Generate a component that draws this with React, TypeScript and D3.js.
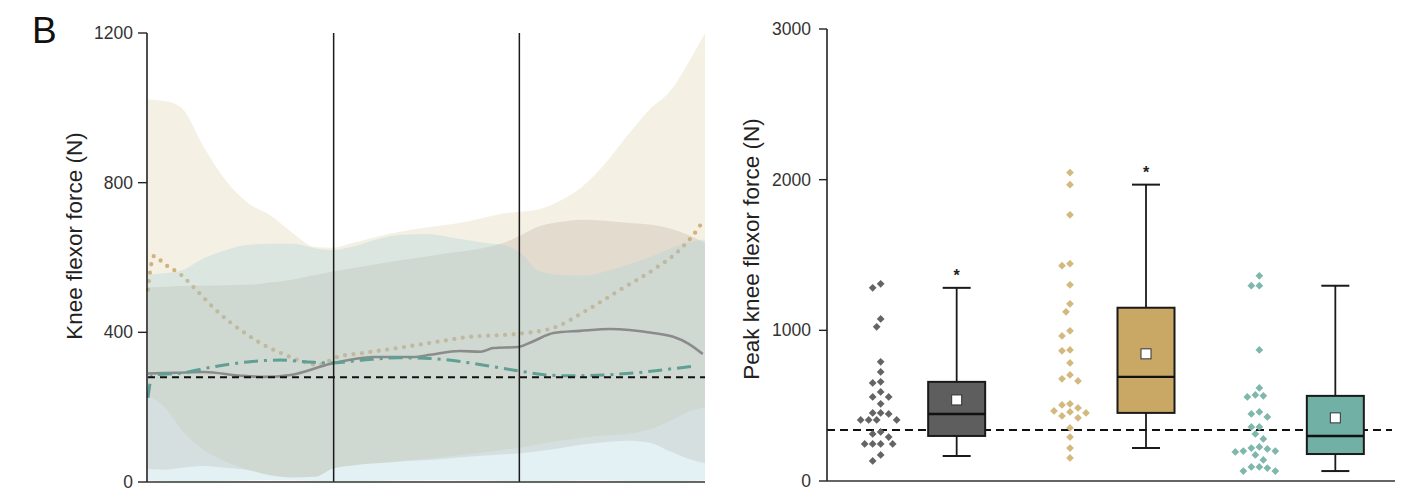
import React from "react";
import * as d3 from "d3";

// ---- left panel: knee flexor force over the cycle (% of cycle) ----
const cyclePct = [0, 3, 6, 10, 14, 18, 22, 26, 30, 33, 37, 41, 45, 50, 55, 60, 64, 67, 70, 74, 78, 82, 86, 90, 94, 97, 100];

const goldUpper = [1022, 1018, 1000, 895, 805, 745, 712, 665, 628, 626, 640, 655, 668, 680, 690, 705, 718, 722, 728, 752, 790, 850, 925, 995, 1050, 1120, 1200];
const goldLower = [230, 200, 140, 85, 55, 32, 18, 12, 14, 35, 45, 50, 55, 62, 70, 78, 86, 92, 100, 110, 118, 124, 128, 140, 165, 188, 200];
const grayUpper = [520, 522, 524, 525, 526, 527, 533, 541, 553, 562, 572, 582, 592, 603, 614, 625, 640, 660, 682, 695, 701, 698, 693, 688, 676, 660, 639];
const grayLower = [35, 33, 38, 43, 38, 32, 18, 12, 14, 35, 45, 50, 55, 58, 64, 70, 74, 77, 82, 90, 100, 106, 110, 105, 80, 62, 50];
const tealUpper = [555, 558, 565, 598, 620, 634, 637, 637, 625, 620, 630, 648, 660, 663, 652, 640, 632, 610, 565, 553, 551, 562, 580, 600, 625, 640, 648];
const tealLower = [4, 3, 2, 2, 3, 4, 5, 4, 3, 2, 2, 3, 4, 5, 5, 4, 3, 2, 2, 3, 4, 4, 3, 2, 2, 3, 4];

// mean curves: [% of cycle, force N]
const grayMean: [number, number][] = [
  [0, 290], [5, 292], [10, 294], [16.7, 284], [20.8, 281], [25.6, 286], [32.8, 316], [36, 326], [40.5, 334],
  [47.7, 334], [50.7, 340], [56, 350], [59.7, 348], [62, 358], [66.5, 361], [69, 375], [72.8, 398], [77.6, 404],
  [83, 409], [90.7, 398], [94.3, 388], [97, 370], [99.6, 342],
];
const tealMean: [number, number][] = [
  [0, 225], [0.8, 286], [5.9, 291], [11.8, 308], [17.9, 321], [23.8, 326], [28.7, 321], [32.8, 318], [38.7, 326],
  [44.8, 332], [50.7, 330], [57.9, 318], [62, 308], [66.5, 297], [71.7, 286], [75.8, 284], [81.7, 286], [87.8, 292],
  [93.7, 302], [98.2, 310],
];
const goldMean: [number, number][] = [
  [0, 514], [0.5, 575], [1.1, 604], [2.9, 583], [5.9, 554], [9, 508], [11.8, 465], [14.9, 425], [17.9, 393],
  [20.8, 366], [23.8, 345], [26.9, 326], [30.5, 313], [34, 334], [38.7, 345], [44.8, 358], [49.5, 369], [57.9, 388],
  [66.3, 396], [72.8, 412], [78.9, 460], [84.8, 514], [90.7, 567], [95.5, 621], [98.6, 674], [99.6, 696],
];
const leftThreshold = 280;
const phaseBounds = [33.33, 66.67];
const leftTicks = [0, 400, 800, 1200];

// ---- right panel: peak knee flexor force ----
const groupNames = ["Grey", "Gold", "Teal"];
const groupColors = ["#5e5e5e", "#c8a864", "#71b0a5"];
const dotColors = ["#646464", "#d3b97e", "#7fb7ac"];
const greyPoints = [1309, 1282, 1076, 1023, 791, 724, 658, 651, 591, 558, 558, 512, 452, 452, 445, 405, 405, 405, 405, 326, 312, 292, 246, 246, 246, 246, 173, 133];
const goldPoints = [2047, 1967, 1767, 1442, 1429, 1302, 1176, 1123, 997, 963, 870, 864, 784, 704, 678, 664, 512, 505, 485, 465, 458, 452, 432, 419, 352, 292, 219, 153];
const tealPoints = [1362, 1296, 1296, 870, 618, 571, 565, 558, 458, 445, 425, 359, 359, 312, 279, 226, 219, 213, 199, 199, 193, 173, 140, 93, 93, 86, 66, 66];
const boxQ1 = [299, 452, 179];
const boxMedian = [445, 691, 299];
const boxQ3 = [658, 1150, 565];
const boxMean = [538, 844, 419];
const whiskerLow = [166, 219, 66];
const whiskerHigh = [1282, 1967, 1296];
const significant = [true, true, false];
const rightThreshold = 339;
const rightTicks = [0, 1000, 2000, 3000];

const FONT = "'Liberation Sans', Arial, sans-serif";

// simple dodge so overlapping diamonds spread sideways
function swarm(values: number[], y: (v: number) => number, minDist: number) {
  const order = values.map((v, i) => i).sort((a, b) => values[b] - values[a]);
  const placed: { x: number; y: number }[] = [];
  const out: { x: number; y: number }[] = new Array(values.length);
  order.forEach((i) => {
    const yy = y(values[i]);
    for (let k = 0; k < 60; k++) {
      const off = (k % 2 === 0 ? 1 : -1) * Math.ceil(k / 2) * (minDist / 2);
      const ok = placed.every((p) => (p.x - off) ** 2 + (p.y - yy) ** 2 >= minDist * minDist);
      if (ok) {
        placed.push({ x: off, y: yy });
        out[i] = { x: off, y: yy };
        break;
      }
    }
  });
  return out;
}

export default function App() {
  const W = 1408;
  const H = 502;

  // left scales
  const lx = d3.scaleLinear().domain([0, 100]).range([148, 705]);
  const ly = d3.scaleLinear().domain([0, 1200]).range([482, 33]);

  const band = (lo: number[], hi: number[]) =>
    d3
      .area<number>()
      .x((d) => lx(d))
      .y0((_, i) => ly(lo[i]))
      .y1((_, i) => ly(hi[i]))
      .curve(d3.curveMonotoneX)(cyclePct) || "";

  const meanLine = d3
    .line<[number, number]>()
    .x((d) => lx(d[0]))
    .y((d) => ly(d[1]))
    .curve(d3.curveMonotoneX);

  // right scales
  const rx = d3.scaleBand<string>().domain(groupNames).range([827, 1395]);
  const inner = d3.scalePoint<string>().domain(["dots", "box"]).range([-41, 35]);
  const ry = d3.scaleLinear().domain([0, 3000]).range([481, 29]);
  const diamond = d3.symbol(d3.symbolSquare, 30)() || "";
  const allPoints = [greyPoints, goldPoints, tealPoints];
  const boxW = 57;
  const capW = 28;

  const leftAxisX = 147;
  const rightAxisX = 827;

  return (
    <svg width={W} height={H} style={{ position: "absolute", left: 0, top: 0, background: "#fff" }} fontFamily={FONT}>
      {/* panel letter */}
      <text x={32} y={43} fontSize={37} fill="#111">B</text>

      {/* ---------- left panel ---------- */}
      <path d={band(goldLower, goldUpper)} fill="rgb(224,212,175)" fillOpacity={0.35} />
      <path d={meanLine(goldMean) || ""} fill="none" stroke="#c9a462" strokeOpacity={0.8} strokeWidth={4.3} strokeDasharray="0 8.5" strokeLinecap="round" />
      <path d={band(grayLower, grayUpper)} fill="rgb(185,172,160)" fillOpacity={0.3} />
      <path d={band(tealLower, tealUpper)} fill="rgb(165,210,220)" fillOpacity={0.3} />
      <path d={meanLine(grayMean) || ""} fill="none" stroke="#8b8b8b" strokeWidth={2.6} />
      <path d={meanLine(tealMean) || ""} fill="none" stroke="#5f9f94" strokeWidth={3} strokeDasharray="14 6 3 6" />
      <line x1={lx(0)} x2={lx(100)} y1={ly(leftThreshold)} y2={ly(leftThreshold)} stroke="#111" strokeWidth={2} strokeDasharray="7 5" />
      {phaseBounds.map((p) => (
        <line key={p} x1={lx(p)} x2={lx(p)} y1={ly(1200)} y2={ly(0)} stroke="#1a1a1a" strokeWidth={1.5} />
      ))}
      {/* left axes */}
      <line x1={leftAxisX} x2={leftAxisX} y1={ly(1200)} y2={ly(0)} stroke="#222" strokeWidth={1.6} />
      <line x1={leftAxisX} x2={705} y1={ly(0)} y2={ly(0)} stroke="#333" strokeWidth={1.6} />
      {leftTicks.map((t) => (
        <g key={t}>
          <line x1={leftAxisX - 9} x2={leftAxisX} y1={ly(t)} y2={ly(t)} stroke="#222" strokeWidth={1.4} />
          <text x={leftAxisX - 14} y={ly(t)} textAnchor="end" dominantBaseline="central" fontSize={17.5} fill="#333">
            {t}
          </text>
        </g>
      ))}
      <text
        transform={`translate(74,236) rotate(-90)`}
        textAnchor="middle"
        dominantBaseline="central"
        fontSize={22.5}
        fill="#222"
      >
        Knee flexor force (N)
      </text>

      {/* ---------- right panel ---------- */}
      <line x1={rightAxisX} x2={1392} y1={ry(rightThreshold)} y2={ry(rightThreshold)} stroke="#111" strokeWidth={2} strokeDasharray="8 5" />
      {groupNames.map((g, gi) => {
        const c = (rx(g) || 0) + rx.bandwidth() / 2;
        const dx = c + (inner("dots") || 0);
        const bx = c + (inner("box") || 0);
        const pts = swarm(allPoints[gi], (v) => ry(v), 8);
        return (
          <g key={g}>
            {pts.map((p, i) => (
              <path key={i} d={diamond} transform={`translate(${dx + p.x},${p.y}) rotate(45)`} fill={dotColors[gi]} />
            ))}
            {/* whiskers */}
            <line x1={bx} x2={bx} y1={ry(whiskerHigh[gi])} y2={ry(boxQ3[gi])} stroke="#1a1a1a" strokeWidth={1.8} />
            <line x1={bx} x2={bx} y1={ry(boxQ1[gi])} y2={ry(whiskerLow[gi])} stroke="#1a1a1a" strokeWidth={1.8} />
            <line x1={bx - capW / 2} x2={bx + capW / 2} y1={ry(whiskerHigh[gi])} y2={ry(whiskerHigh[gi])} stroke="#1a1a1a" strokeWidth={2} />
            <line x1={bx - capW / 2} x2={bx + capW / 2} y1={ry(whiskerLow[gi])} y2={ry(whiskerLow[gi])} stroke="#1a1a1a" strokeWidth={2} />
            {/* box */}
            <rect
              x={bx - boxW / 2}
              y={ry(boxQ3[gi])}
              width={boxW}
              height={ry(boxQ1[gi]) - ry(boxQ3[gi])}
              fill={groupColors[gi]}
              stroke="#1a1a1a"
              strokeWidth={2}
            />
            <line x1={bx - boxW / 2} x2={bx + boxW / 2} y1={ry(boxMedian[gi])} y2={ry(boxMedian[gi])} stroke="#111" strokeWidth={2.4} />
            <rect x={bx - 5} y={ry(boxMean[gi]) - 5} width={10} height={10} fill="#fff" stroke="#333" strokeWidth={1} />
            {significant[gi] && (
              <text x={bx} y={ry(whiskerHigh[gi]) - 7} textAnchor="middle" fontSize={16} fontWeight="bold" fill="#222">
                *
              </text>
            )}
          </g>
        );
      })}
      {/* right axes */}
      <line x1={rightAxisX} x2={rightAxisX} y1={ry(3000)} y2={ry(0)} stroke="#222" strokeWidth={1.6} />
      <line x1={rightAxisX} x2={1395} y1={ry(0)} y2={ry(0)} stroke="#333" strokeWidth={1.6} />
      {rightTicks.map((t) => (
        <g key={t}>
          <line x1={rightAxisX - 8} x2={rightAxisX} y1={ry(t)} y2={ry(t)} stroke="#222" strokeWidth={1.4} />
          <text x={rightAxisX - 16} y={ry(t)} textAnchor="end" dominantBaseline="central" fontSize={17.5} fill="#333">
            {t}
          </text>
        </g>
      ))}
      <text
        transform={`translate(751,249) rotate(-90)`}
        textAnchor="middle"
        dominantBaseline="central"
        fontSize={22.5}
        fill="#222"
      >
        Peak knee flexor force (N)
      </text>
    </svg>
  );
}
